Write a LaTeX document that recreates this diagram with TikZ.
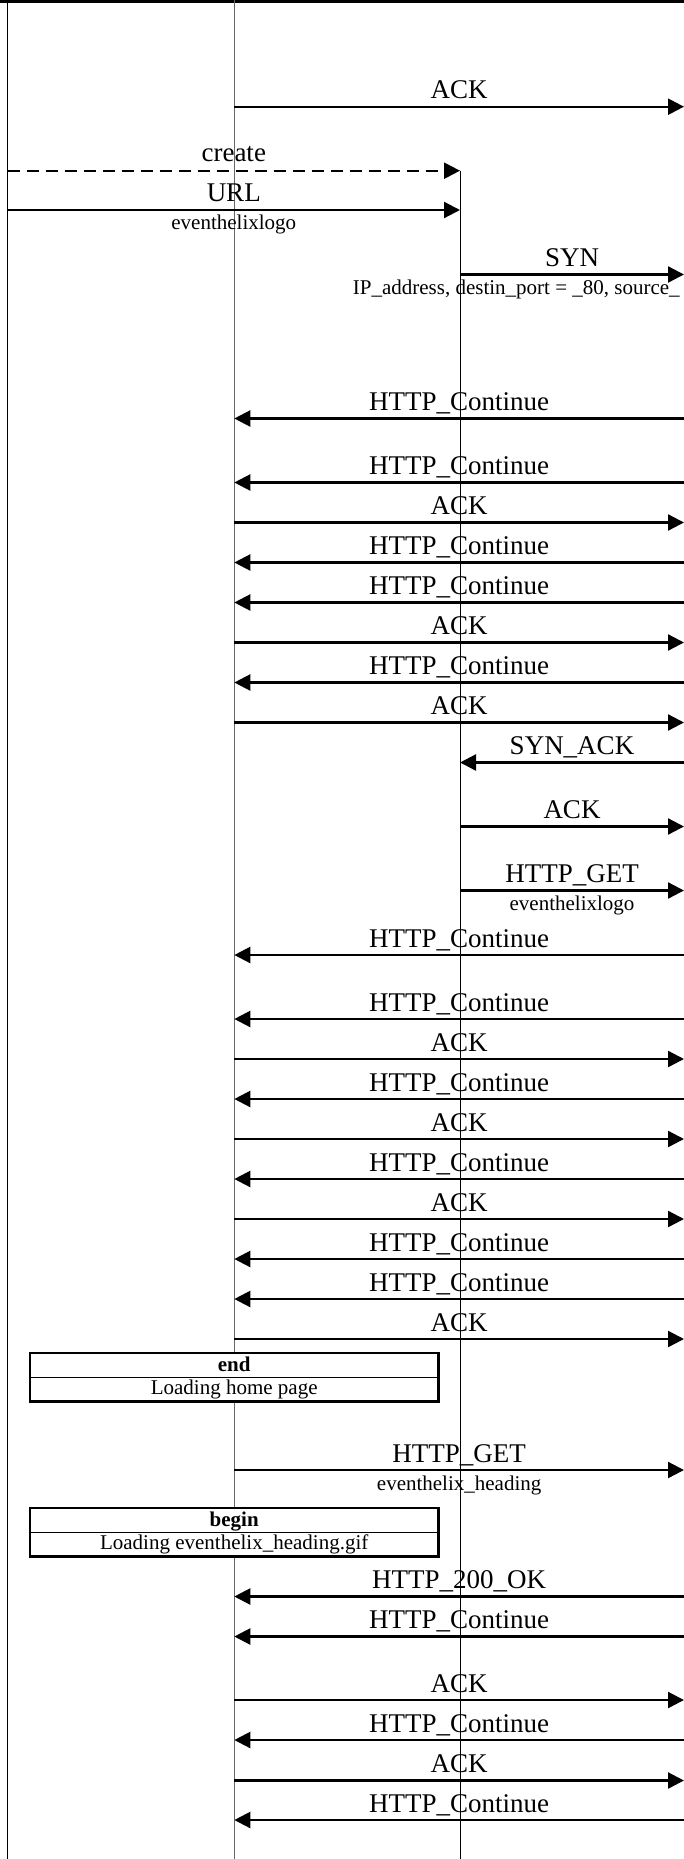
\documentclass[tikz,border=0pt]{standalone}
\usepackage{fontspec}
\setmainfont{Liberation Serif}
\usetikzlibrary{arrows.meta,calc}
\def\lxA{7.5}
\def\lxB{234.3}
\def\lxC{460}
\def\lxD{684}
\tikzset{
  msg/.style={line width=2.3pt, -{Triangle[length=16pt,width=16pt]}},
  biglbl/.style={anchor=base, inner sep=0pt, font=\fontsize{27}{30}\selectfont},
  smalllbl/.style={anchor=base, inner sep=0pt, font=\fontsize{21}{24}\selectfont},
  lifeA/.style={line width=1pt, black},
  lifeB/.style={line width=1.6pt, black!60},
  seqbox/.style={draw, fill=white, line width=2.5pt, inner sep=0pt, minimum width=408.3pt, minimum height=48.7pt},
  divider/.style={line width=1pt},
  headline/.style={line width=3pt},
  headtick/.style={line width=2.5pt},
}
\newcommand{\seqmsg}[5]{%
  \coordinate (#1s) at (#3,-#2);
  \coordinate (#1e) at (#4,-#2);
  \draw[msg] (#1s) -- (#1e);
  \node[biglbl] (#1l) at ($(#1s)!0.5!(#1e)+(0,8)$) {#5};
}
\newcommand{\seqsub}[2]{%
  \node[smalllbl] (#1sub) at ($(#1s)!0.5!(#1e)+(0,-20)$) {#2};
}
\begin{document}
\begin{tikzpicture}[x=1pt,y=1pt]
\useasboundingbox (0,0) rectangle (684,-1859);
\clip (0,0) rectangle (684,-1859);
% header bottom edge
\coordinate (hl) at (0,-1.5);
\coordinate (hr) at (684,-1.5);
\draw[headline] (hl) -- (hr);
\foreach \tx in {121,347,573}{\draw[headtick] (\tx,0) -- (\tx,-3.5);}
% lifelines
\coordinate (LAt) at (\lxA,0);
\coordinate (LAb) at (\lxA,-1859);
\coordinate (LBt) at (\lxB,0);
\coordinate (LBb) at (\lxB,-1859);
\coordinate (LCt) at (\lxC,-170.7);
\coordinate (LCb) at (\lxC,-1859);
\draw[lifeA] (LAt) -- (LAb);
\draw[lifeB] (LBt) -- (LBb);
\draw[lifeA] (LCt) -- (LCb);
% messages
\seqmsg{m1}{106.7}{\lxB}{\lxD}{ACK}
\coordinate (m2s) at (\lxA,-170.7);
\coordinate (m2e) at (\lxC,-170.7);
\draw[msg, dash pattern=on 12pt off 7pt] (m2s) -- (m2e);
\node[biglbl] (m2l) at ($(m2s)!0.5!(m2e)+(0,9)$) {create};
\seqmsg{m3}{210}{\lxA}{\lxC}{URL}
\seqsub{m3}{eventhelixlogo}
\seqmsg{m4}{274.5}{\lxC}{\lxD}{SYN}
\node[smalllbl, anchor=base west] (m4sub) at (352.7,-294.5) {IP\_address, destin\_port = \_80, source\_};
\seqmsg{m5}{418.5}{\lxD}{\lxB}{HTTP\_Continue}
\seqmsg{m6}{482.5}{\lxD}{\lxB}{HTTP\_Continue}
\seqmsg{m7}{522.5}{\lxB}{\lxD}{ACK}
\seqmsg{m8}{562.5}{\lxD}{\lxB}{HTTP\_Continue}
\seqmsg{m9}{602.5}{\lxD}{\lxB}{HTTP\_Continue}
\seqmsg{m10}{642.5}{\lxB}{\lxD}{ACK}
\seqmsg{m11}{682.5}{\lxD}{\lxB}{HTTP\_Continue}
\seqmsg{m12}{722.5}{\lxB}{\lxD}{ACK}
\seqmsg{m13}{762.5}{\lxD}{\lxC}{SYN\_ACK}
\seqmsg{m14}{826.5}{\lxC}{\lxD}{ACK}
\seqmsg{m15}{890.5}{\lxC}{\lxD}{HTTP\_GET}
\seqsub{m15}{eventhelixlogo}
\seqmsg{m16}{955}{\lxD}{\lxB}{HTTP\_Continue}
\seqmsg{m17}{1019}{\lxD}{\lxB}{HTTP\_Continue}
\seqmsg{m18}{1059}{\lxB}{\lxD}{ACK}
\seqmsg{m19}{1099}{\lxD}{\lxB}{HTTP\_Continue}
\seqmsg{m20}{1139}{\lxB}{\lxD}{ACK}
\seqmsg{m21}{1179}{\lxD}{\lxB}{HTTP\_Continue}
\seqmsg{m22}{1219}{\lxB}{\lxD}{ACK}
\seqmsg{m23}{1259}{\lxD}{\lxB}{HTTP\_Continue}
\seqmsg{m24}{1299}{\lxD}{\lxB}{HTTP\_Continue}
\seqmsg{m25}{1339}{\lxB}{\lxD}{ACK}
% end box
\node[seqbox] (endbox) at (234.2,-1377.3) {};
\draw[divider] (endbox.west) -- (endbox.east);
\node[smalllbl, font=\fontsize{21}{24}\selectfont\bfseries] (endT) at (234.2,-1371) {end};
\node[smalllbl] (endB) at (234.2,-1394.5) {Loading home page};
\seqmsg{m27}{1470}{\lxB}{\lxD}{HTTP\_GET}
\seqsub{m27}{eventhelix\_heading}
% begin box
\node[seqbox] (beginbox) at (234.2,-1532.2) {};
\draw[divider] (beginbox.west) -- (beginbox.east);
\node[smalllbl, font=\fontsize{21}{24}\selectfont\bfseries] (beginT) at (234.2,-1526) {begin};
\node[smalllbl] (beginB) at (234.2,-1549.8) {Loading eventhelix\_heading.gif};
\seqmsg{m29}{1596.5}{\lxD}{\lxB}{HTTP\_200\_OK}
\seqmsg{m30}{1636.5}{\lxD}{\lxB}{HTTP\_Continue}
\seqmsg{m31}{1700}{\lxB}{\lxD}{ACK}
\seqmsg{m32}{1740}{\lxD}{\lxB}{HTTP\_Continue}
\seqmsg{m33}{1780.5}{\lxB}{\lxD}{ACK}
\seqmsg{m34}{1820}{\lxD}{\lxB}{HTTP\_Continue}
\end{tikzpicture}
\end{document}
